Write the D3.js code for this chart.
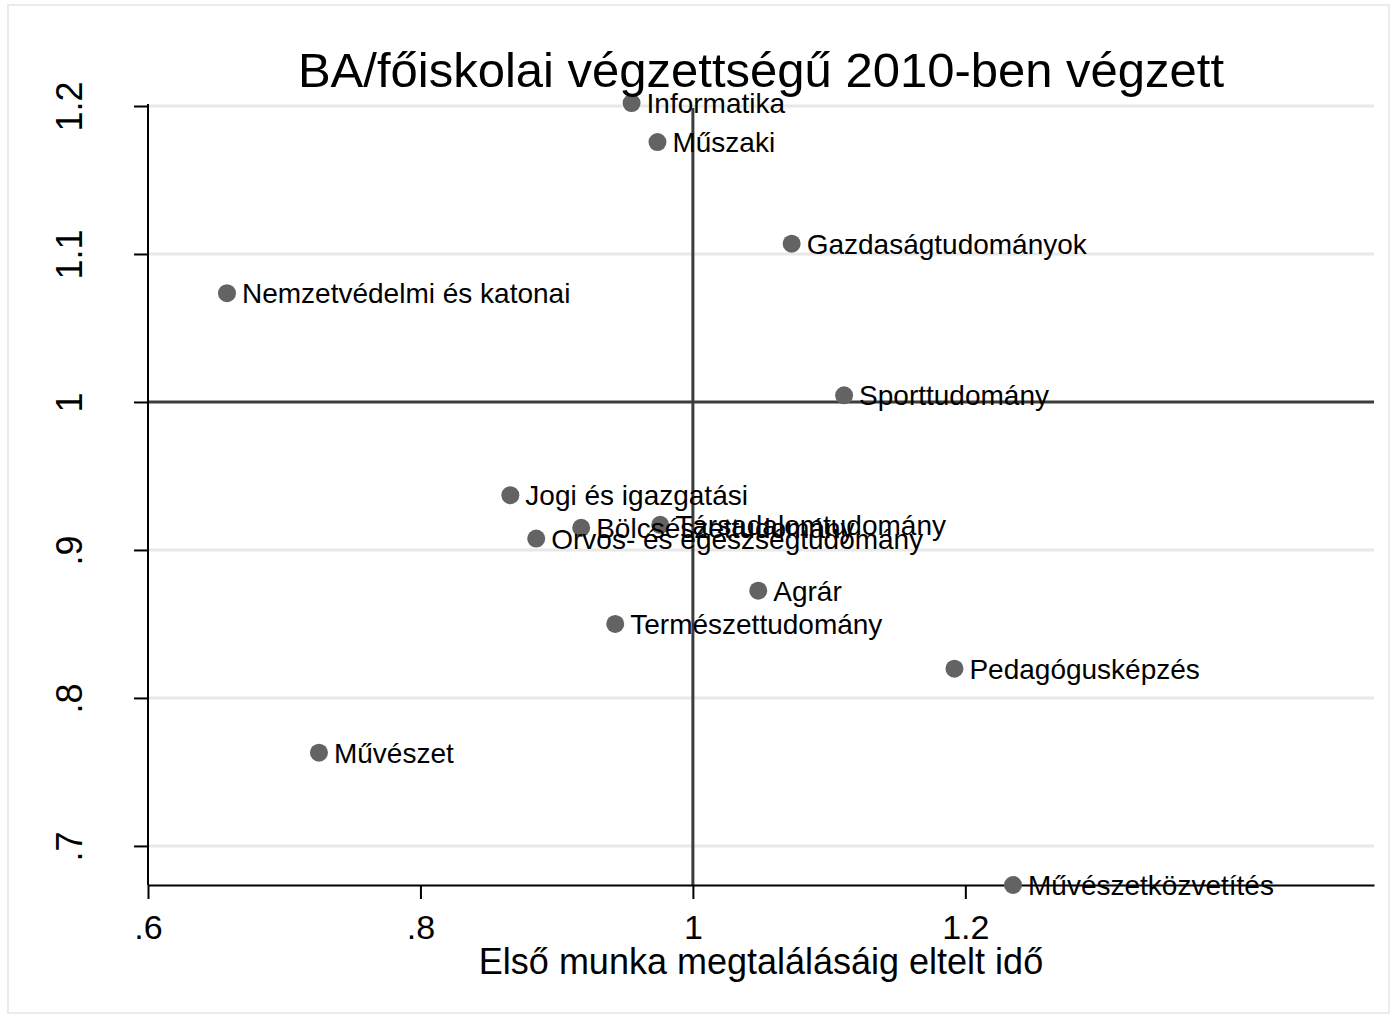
<!DOCTYPE html>
<html>
<head>
<meta charset="utf-8">
<script src="https://cdn.jsdelivr.net/npm/d3@7"></script>
<style>
  html, body { margin: 0; padding: 0; background: #ffffff; }
  text { font-family: "Liberation Sans", Arial, Helvetica, sans-serif; fill: #000; }
</style>
</head>
<body>
<svg id="chart" width="1396" height="1018"></svg>
<script>
// ---- data ----
const categories = ["Informatika", "Műszaki", "Gazdaságtudományok", "Nemzetvédelmi és katonai",
  "Sporttudomány", "Jogi és igazgatási", "Bölcsészettudomány", "Társadalomtudomány",
  "Orvos- és egészségtudomány", "Agrár", "Természettudomány", "Pedagógusképzés",
  "Művészet", "Művészetközvetítés"];
const xValues = [0.955, 0.974, 1.0725, 0.658, 1.111, 0.866, 0.918, 0.976, 0.885, 1.048, 0.943, 1.192, 0.7255, 1.235];
const yValues = [1.202, 1.1756, 1.107, 1.0735, 1.0045, 0.937, 0.915, 0.917, 0.9077, 0.8725, 0.850, 0.8198, 0.763, 0.6736];
const xTicks = [0.6, 0.8, 1.0, 1.2];
const xTickLabels = [".6", ".8", "1", "1.2"];
const yTicks = [0.7, 0.8, 0.9, 1.0, 1.1, 1.2];
const yTickLabels = [".7", ".8", ".9", "1", "1.1", "1.2"];
const xRefLine = 1;
const yRefLine = 1;
const titleText = "BA/főiskolai végzettségű 2010-ben végzett";
const xAxisTitle = "Első munka megtalálásáig eltelt idő";

// ---- layout ----
const svg = d3.select("#chart");
const plot = { left: 148, right: 1374, top: 106, bottom: 885 };

const x = d3.scaleLinear().domain([0.6, 1.5]).range([plot.left, plot.right]);
const y = d3.scaleLinear().domain([d3.min(yValues), 1.2]).range([plot.bottom, plot.top]);

// outer frame
svg.append("rect")
  .attr("x", 8).attr("y", 5).attr("width", 1381).attr("height", 1008)
  .attr("fill", "#ffffff").attr("stroke", "#ebebeb").attr("stroke-width", 2);

// gridlines
svg.append("g").selectAll("line").data(yTicks.filter(t => t !== yRefLine)).join("line")
  .attr("x1", plot.left).attr("x2", plot.right)
  .attr("y1", d => y(d)).attr("y2", d => y(d))
  .attr("stroke", "#e8e8e8").attr("stroke-width", 3);

// reference lines
svg.append("line")
  .attr("x1", x(xRefLine)).attr("x2", x(xRefLine))
  .attr("y1", plot.top + 2).attr("y2", plot.bottom)
  .attr("stroke", "#3c3c3c").attr("stroke-width", 3);
svg.append("line")
  .attr("x1", plot.left).attr("x2", plot.right)
  .attr("y1", y(yRefLine)).attr("y2", y(yRefLine))
  .attr("stroke", "#3c3c3c").attr("stroke-width", 3);

// x axis
const xAxis = d3.axisBottom(x).tickValues(xTicks)
  .tickFormat((d, i) => xTickLabels[i]).tickSize(14).tickSizeOuter(0).tickPadding(8);
const gx = svg.append("g").attr("transform", `translate(0,${plot.bottom})`).call(xAxis);
gx.select(".domain").attr("stroke", "#000").attr("stroke-width", 2);
gx.selectAll(".tick line").attr("stroke", "#000").attr("stroke-width", 2);
gx.selectAll(".tick text").attr("font-size", 34).attr("font-family", null)
  .attr("dy", null).attr("y", 54);

// y axis
const yAxis = d3.axisLeft(y).tickValues(yTicks)
  .tickFormat((d, i) => yTickLabels[i]).tickSize(14).tickSizeOuter(0);
const gy = svg.append("g").attr("transform", `translate(${plot.left},0)`).call(yAxis);
gy.select(".domain").attr("stroke", "#000").attr("stroke-width", 2);
gy.selectAll(".tick line").attr("stroke", "#000").attr("stroke-width", 2);
gy.selectAll(".tick text").attr("font-size", 36).attr("font-family", null)
  .attr("x", null).attr("dy", null)
  .attr("text-anchor", "middle")
  .attr("transform", "translate(-66,0) rotate(-90)");
gy.select(".domain").attr("d", `M0,${plot.top - 2}V${plot.bottom}`);

// markers
svg.append("g").selectAll("circle").data(categories).join("circle")
  .attr("cx", (d, i) => x(xValues[i]))
  .attr("cy", (d, i) => y(yValues[i]))
  .attr("r", 9)
  .attr("fill", "#636363");

// marker labels
svg.append("g").selectAll("text").data(categories).join("text")
  .attr("x", (d, i) => x(xValues[i]) + 15)
  .attr("y", (d, i) => y(yValues[i]) + 10)
  .attr("font-size", 28)
  .text(d => d);

// title
svg.append("text")
  .attr("x", (plot.left + plot.right) / 2).attr("y", 87)
  .attr("text-anchor", "middle").attr("font-size", 49)
  .text(titleText);

// x axis title
svg.append("text")
  .attr("x", (plot.left + plot.right) / 2).attr("y", 974)
  .attr("text-anchor", "middle").attr("font-size", 36)
  .text(xAxisTitle);
</script>
</body>
</html>
